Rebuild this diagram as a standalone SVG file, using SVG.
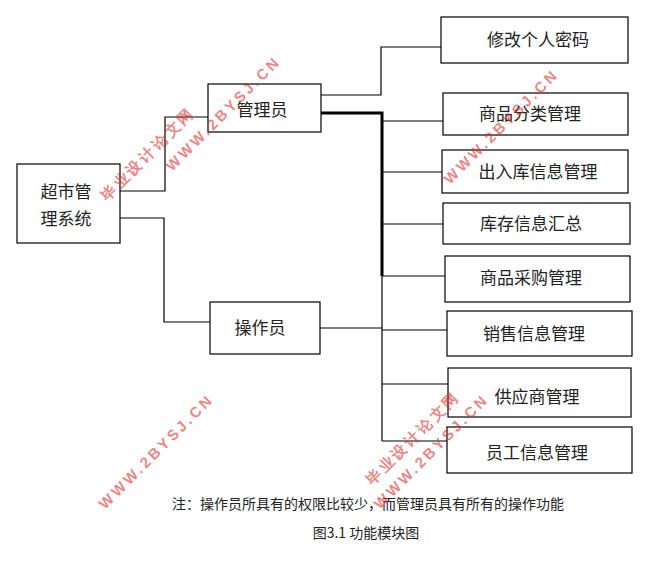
<svg xmlns="http://www.w3.org/2000/svg" width="660" height="565" viewBox="0 0 660 565">
<style>
rect{fill:#fff;stroke:#000;stroke-width:1.2}
text{font-family:"Noto Sans CJK SC","Liberation Serif",serif;font-size:17px;fill:#222;text-anchor:middle}
.c{fill:none;stroke:#000;stroke-width:1.2}
.wm{font-family:"Liberation Sans",sans-serif;font-weight:bold;font-size:15px;fill:#d33;fill-opacity:0.6;letter-spacing:3px}
</style>
<rect width="660" height="565" style="fill:#fff;stroke:none"/>
<g id="connectors">
<path class="c" d="M120 191H165V117H208M120 218H164V322H210M321 95H381V47H441"/>
<path class="c" d="M382 113V441M382 121H443M382 172H442M382 224H443M382 276H445M382 330H447M382 384H448M382 441H447M320 328H382"/>
<path class="c" style="stroke-width:3" d="M318 113H382V276"/>
</g>
<g id="root"><rect x="17" y="164" width="103" height="79"/><text x="66" y="198">超市管</text><text x="66" y="225">理系统</text></g>
<g id="admin"><rect x="208" y="84" width="113" height="48"/><text x="262" y="116">管理员</text></g>
<g id="oper"><rect x="210" y="302" width="110" height="52"/><text x="260" y="334">操作员</text></g>
<g id="n1"><rect x="441" y="17" width="187" height="46"/><text x="538" y="46">修改个人密码</text></g>
<g id="n2"><rect x="443" y="93" width="185" height="42"/><text x="530" y="120">商品分类管理</text></g>
<g id="n3"><rect x="442" y="150" width="186" height="43"/><text x="538" y="178">出入库信息管理</text></g>
<g id="n4"><rect x="443" y="203" width="187" height="41"/><text x="531" y="230">库存信息汇总</text></g>
<g id="n5"><rect x="445" y="256" width="185" height="46"/><text x="531" y="284">商品采购管理</text></g>
<g id="n6"><rect x="447" y="311" width="185" height="45"/><text x="534" y="340">销售信息管理</text></g>
<g id="n7"><rect x="448" y="368" width="183" height="49"/><text x="537" y="403">供应商管理</text></g>
<g id="n8"><rect x="447" y="427" width="185" height="46"/><text x="537" y="459">员工信息管理</text></g>
<text x="368" y="509" style="font-size:14px">注：操作员所具有的权限比较少，而管理员具有所有的操作功能</text>
<text x="366" y="538" style="font-size:14px">图3.1 功能模块图</text>
<g id="watermarks">
<text class="wm" transform="translate(172,172) rotate(-45)" x="0" y="0" style="text-anchor:start">WWW.2BYSJ.CN</text>
<text class="wm" transform="translate(107,202) rotate(-45)" x="0" y="0" style="text-anchor:start">毕业设计论文网</text>
<text class="wm" transform="translate(105,510) rotate(-45)" x="0" y="0" style="text-anchor:start">WWW.2BYSJ.CN</text>
<text class="wm" transform="translate(450,185) rotate(-45)" x="0" y="0" style="text-anchor:start">WWW.2BYSJ.CN</text>
<text class="wm" transform="translate(380,510) rotate(-45)" x="0" y="0" style="text-anchor:start">WWW.2BYSJ.CN</text>
<text class="wm" transform="translate(372,486) rotate(-45)" x="0" y="0" style="text-anchor:start">毕业设计论文网</text>
</g>
</svg>
